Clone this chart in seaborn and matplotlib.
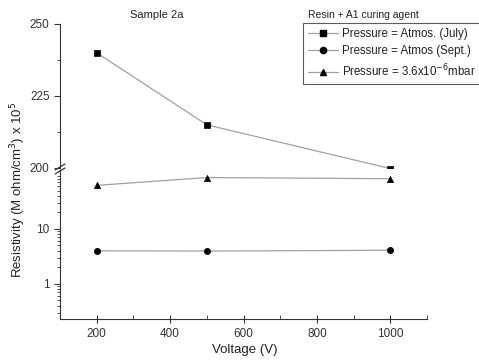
import matplotlib
matplotlib.use("Agg")
import matplotlib.pyplot as plt
from matplotlib.lines import Line2D
from matplotlib.ticker import LogLocator, NullFormatter, FixedLocator, MultipleLocator
import seaborn as sns
import pandas as pd

voltage = [200, 500, 1000]
july = [240, 215, 199.8]
sept = [4.0, 3.95, 4.1]
vacuum = [62, 86, 82]

labels = ["Pressure = Atmos. (July)", "Pressure = Atmos (Sept.)", "Pressure = 3.6x10$^{-6}$mbar"]
markers = ["s", "o", "^"]

sns.set_style("ticks")
plt.rcParams['font.family'] = ['Liberation Sans', 'DejaVu Sans']
plt.rcParams['font.size'] = 8
plt.rcParams['axes.edgecolor'] = '#333333'
plt.rcParams['xtick.color'] = '#333333'
plt.rcParams['ytick.color'] = '#333333'
plt.rcParams['text.color'] = '#222222'

fig = plt.figure(figsize=(4.79, 3.62), dpi=100)
L, W = 60/479, (427-60)/479
ax_top = fig.add_axes([L, 1-168/362, W, (168-24)/362])
ax_bot = fig.add_axes([L, 1-319/362, W, (319-170)/362])

line_color = "#a0a0a0"

def draw(ax, y, m, clip=True):
    df = pd.DataFrame({"V": voltage, "R": y})
    sns.lineplot(data=df, x="V", y="R", ax=ax, color=line_color, lw=0.9, legend=False)
    sns.scatterplot(data=df, x="V", y="R", ax=ax, marker=m, color="black", s=20,
                    edgecolor="black", linewidth=0.5, legend=False, clip_on=clip, zorder=3)

draw(ax_top, july, "s")
draw(ax_bot, sept, "o")
draw(ax_bot, vacuum, "^")

for ax in (ax_top, ax_bot):
    ax.set_xlim(100, 1100)
    ax.set_xlabel("")
    ax.set_ylabel("")
    ax.spines['top'].set_visible(False)
    ax.spines['right'].set_visible(False)
    ax.tick_params(axis='y', which='major', direction='out', length=4, width=0.8, labelsize=8.5)
    ax.tick_params(axis='y', which='minor', direction='out', length=2, width=0.6)

ax_top.set_ylim(200, 250)
ax_top.yaxis.set_major_locator(FixedLocator([200, 225, 250]))
ax_top.yaxis.set_minor_locator(FixedLocator([212.5, 237.5]))
ax_top.spines['bottom'].set_visible(False)
ax_top.tick_params(axis='x', which='both', bottom=False, labelbottom=False)
ax_top.patch.set_alpha(0)

ax_bot.set_yscale("log")
ax_bot.set_ylim(0.23, 118)
ax_bot.yaxis.set_major_locator(FixedLocator([1, 10]))
ax_bot.set_yticklabels(["1", "10"])
ax_bot.yaxis.set_minor_locator(LogLocator(base=10, subs=range(2, 10)))
ax_bot.yaxis.set_minor_formatter(NullFormatter())
ax_bot.xaxis.set_minor_locator(MultipleLocator(100))
ax_bot.set_xticks([200, 400, 600, 800, 1000])
ax_bot.tick_params(axis='x', which='major', direction='inout', length=6, width=0.8, labelsize=8.5)
ax_bot.tick_params(axis='x', which='minor', direction='in', length=3, width=0.6)
ax_bot.patch.set_alpha(0)

# break marks
kw = dict(transform=fig.transFigure, color='#333333', lw=0.9, clip_on=False)
x0 = L
for dy in (0, 4):
    fig.add_artist(Line2D([x0 - 5/479, x0 + 5/479], [1-(170+dy)/362, 1-(164+dy)/362], **kw))

fig.text(157/479, 1-15/362, "Sample 2a", ha="center", va="center", fontsize=8)
fig.text(18/479, 1-190/362, "Resistivity (M ohm/cm$^3$) x 10$^5$", rotation=90,
         ha="center", va="center", fontsize=9.5)
fig.text(245/479, 1-350/362, "Voltage (V)", ha="center", va="center", fontsize=9.5)
fig.text(308/479, 1-15/362, "Resin + A1 curing agent", ha="left", va="center", fontsize=7.5)

handles = [Line2D([], [], color=line_color, lw=0.9, marker=m, markerfacecolor="black",
                  markeredgecolor="black", markersize=4.5) for m in markers]
leg = fig.legend(handles, labels, loc="upper left", bbox_to_anchor=(303/479, 1-23/362),
                 frameon=True, fancybox=False, fontsize=8.3, handlelength=2.6,
                 borderpad=0.45, labelspacing=0.45, handletextpad=0.3, borderaxespad=0)
leg.get_frame().set_edgecolor("#333333")
leg.get_frame().set_linewidth(0.8)

fig.savefig("out.png", dpi=100)
